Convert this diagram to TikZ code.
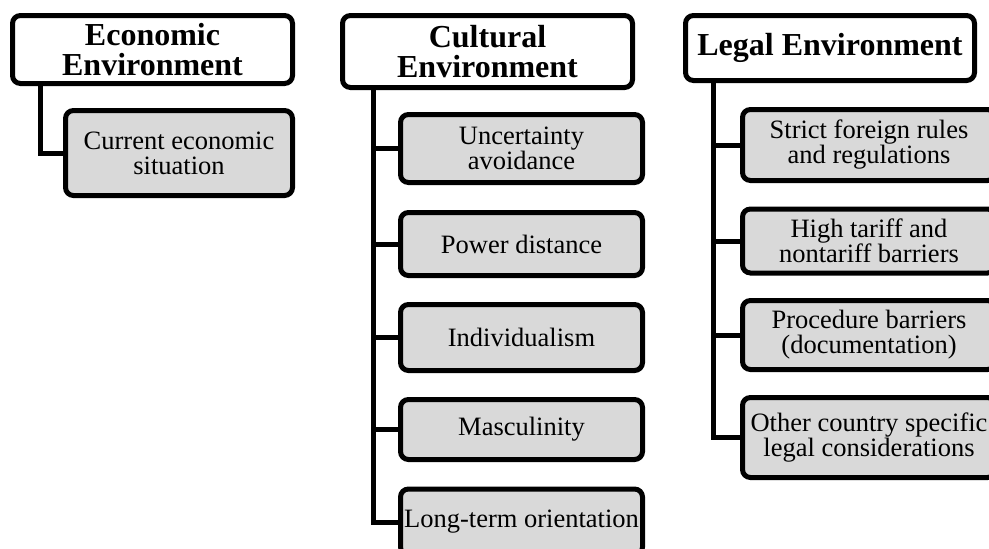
\documentclass[tikz,border=0pt]{standalone}
\usepackage{fontspec}
\setmainfont{Liberation Serif}
\usetikzlibrary{positioning}
\definecolor{boxgray}{RGB}{217,217,217}
\tikzset{hdr/.style={draw,line width=5pt,rounded corners=8pt,fill=white,align=center,inner sep=0pt,font=\fontsize{32}{30}\selectfont\bfseries},
  item/.style={hdr,fill=boxgray,font=\fontsize{26.5}{25}\selectfont},
  link/.style={line width=5pt}}

\begin{document}
\begin{tikzpicture}[x=1pt,y=-1pt]
\useasboundingbox (0,0) rectangle (989,549);
% headers
\node[hdr,minimum width=280pt,minimum height=68pt] (econ) at (152.5,49.5) {Economic\\Environment};
\node[hdr,minimum width=290pt,minimum height=72pt] (cult) at (487.5,51.5) {Cultural\\Environment};
\node[hdr,minimum width=289pt,minimum height=65pt] (legal) at (830,48) {Legal Environment};
% economic
\node[item,minimum width=227pt,minimum height=85pt] (econ1) at (179,153) {Current economic\\situation};
\draw[link] (econ.south west) ++(30,0) |- (econ1.west);
% cultural
\path (cult.south west) ++(33,0) coordinate (cultbar);
\node[item,minimum width=242pt,minimum height=68pt] (cult1) at (521.5,148.5) {Uncertainty\\avoidance};
\node[item,minimum width=242pt,minimum height=63pt] (cult2) at (521.5,244) {Power distance};
\node[item,minimum width=242pt,minimum height=66pt] (cult3) at (521.5,337.5) {Individualism};
\node[item,minimum width=242pt,minimum height=60pt] (cult4) at (521.5,429.5) {Masculinity};
\node[item,minimum width=242pt,minimum height=66pt] (cult5) at (521.5,522) {Long-term orientation};
\foreach \i in {1,...,5}
  \draw[link] (cultbar) |- (cult\i.west);
% legal
\path (legal.south west) ++(30,0) coordinate (legalbar);
\node[item,minimum width=253pt,minimum height=71pt] (legal1) at (869,145) {Strict foreign rules\\and regulations};
\node[item,minimum width=253pt,minimum height=64pt] (legal2) at (869,241) {High tariff and\\nontariff barriers};
\node[item,minimum width=253pt,minimum height=69pt] (legal3) at (869,335) {Procedure barriers\\(documentation)};
\node[item,minimum width=253pt,minimum height=80pt] (legal4) at (869,437.5) {Other country specific\\legal considerations};
\foreach \i in {1,...,4}
  \draw[link] (legalbar) |- (legal\i.west);
\end{tikzpicture}
\end{document}
